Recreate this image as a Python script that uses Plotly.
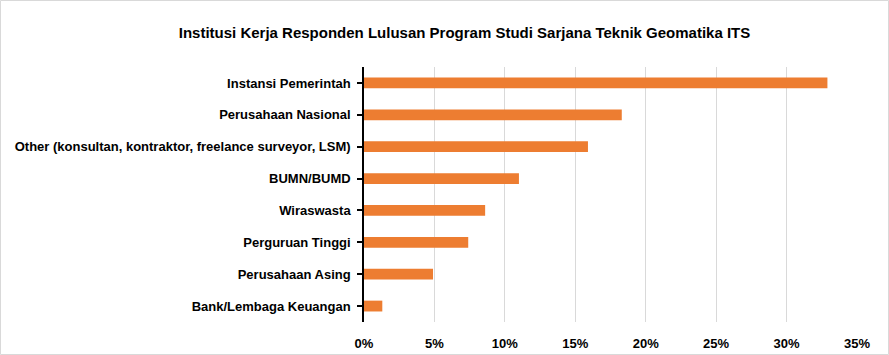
import plotly.graph_objects as go

categories = [
    "Instansi Pemerintah",
    "Perusahaan Nasional",
    "Other (konsultan, kontraktor, freelance surveyor, LSM)",
    "BUMN/BUMD",
    "Wiraswasta",
    "Perguruan Tinggi",
    "Perusahaan Asing",
    "Bank/Lembaga Keuangan",
]
values = [0.329, 0.183, 0.159, 0.110, 0.086, 0.074, 0.049, 0.013]
tick_vals = [0, 0.05, 0.10, 0.15, 0.20, 0.25, 0.30, 0.35]
tick_text = ["0%", "5%", "10%", "15%", "20%", "25%", "30%", "35%"]
title_text = "Institusi Kerja Responden Lulusan Program Studi Sarjana Teknik Geomatika ITS"

W, H = 889, 355
L, R, T, B = 364, 32, 67, 33
pw, ph = W - L - R, H - T - B

fig = go.Figure(go.Bar(
    x=values, y=categories, orientation="h",
    marker=dict(color="#ED7D31", line=dict(width=0)),
    hoverinfo="x+y",
))

fig.update_layout(
    width=W, height=H,
    margin=dict(l=L, r=R, t=T, b=B, pad=0, autoexpand=False),
    paper_bgcolor="white", plot_bgcolor="white",
    bargap=0.66,
    showlegend=False,
    font=dict(family="Liberation Sans, Arial", size=13, color="#000000"),
    title=dict(text="<b>" + title_text + "</b>", x=(183 + 746) / 2 / W, xanchor="center",
               y=1 - 33 / H, yanchor="middle",
               font=dict(size=15, color="#000000")),
    xaxis=dict(range=[0, 0.35], tickvals=tick_vals, ticktext=["<b>%s</b>" % t for t in tick_text],
               showgrid=True, gridcolor="#D9D9D9", gridwidth=1,
               zeroline=False, showline=False, ticks="", ticklabelstandoff=12,
               tickfont=dict(size=13)),
    yaxis=dict(categoryorder="array", categoryarray=categories[::-1],
               tickvals=categories, ticktext=["<b>%s</b>" % c for c in categories],
               showline=True, linecolor="#000000", linewidth=1.5,
               ticks="outside", ticklen=5, tickcolor="#000000", tickwidth=1.5,
               showgrid=False, tickfont=dict(size=13), ticklabelstandoff=4),
    shapes=[dict(type="rect", xref="paper", yref="paper",
                 x0=(0.5 - L) / pw, x1=(W - 0.5 - L) / pw,
                 y0=-(B - 0.5) / ph, y1=(H - B - 0.5) / ph,
                 line=dict(color="#D9D9D9", width=1), layer="below")],
)

fig.write_html("out.html", config={"displayModeBar": False})

with open("out.html", "r", encoding="utf-8") as f:
    html = f.read()
html = html.replace("<head>", "<head><style>html,body{margin:0;padding:0;overflow:hidden;}</style>", 1)
with open("out.html", "w", encoding="utf-8") as f:
    f.write(html)
